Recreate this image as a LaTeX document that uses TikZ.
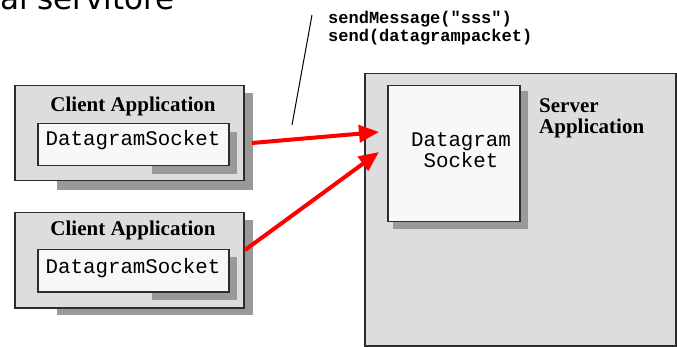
\documentclass[tikz,border=0pt]{standalone}
\usepackage{fontspec}
\setmainfont{Liberation Serif}
\newfontfamily\monof{Liberation Mono}
\newfontfamily\titlef{DejaVu Sans}
\usetikzlibrary{arrows.meta}
\definecolor{boxgray}{RGB}{221,221,221}
\definecolor{shadowgray}{RGB}{153,153,153}
\definecolor{innerwhite}{RGB}{248,248,248}
\definecolor{edgec}{RGB}{45,45,45}
\definecolor{darkshadow}{RGB}{90,90,90}
\begin{document}
\begin{tikzpicture}[x=1pt,y=-1pt,
  outerbox/.style={draw=edgec,line width=1.5pt,fill=boxgray,anchor=north west,inner sep=0pt},
  innerbox/.style={draw=edgec,line width=1.5pt,fill=innerwhite,anchor=north west,inner sep=0pt},
  shadowbox/.style={fill=shadowgray,draw=none},
  msgarrow/.style={draw=red,line width=4pt,-{Triangle[length=20pt,width=17pt,fill=red]}},
  apptitle/.style={font=\bfseries\fontsize{21}{21}\selectfont,inner sep=0pt},
  socktext/.style={font=\monof\fontsize{20.8}{21}\selectfont,inner sep=0pt,anchor=base},
  codetext/.style={font=\monof\bfseries\fontsize{17}{18}\selectfont,inner sep=0pt,anchor=base west},
  noteline/.style={draw=black,line width=1pt}
]
\useasboundingbox (0,0) rectangle (677,347);

% title (cut off at top and left)
\node[anchor=base east,font=\titlef\fontsize{31}{31}\selectfont,inner sep=0pt] (title) at (175,10) {al servitore};

% code note
\node[codetext] (msg1) at (328,24) {sendMessage("sss")};
\node[codetext] (msg2) at (328,42) {send(datagrampacket)};
\coordinate (noteTop) at (312,15);
\coordinate (noteBot) at (292,125);
\draw[noteline] (noteTop) -- (noteBot);

% client 1
\path[shadowbox] (57,93) rectangle (253,190);
\node[outerbox,minimum width=229pt,minimum height=95pt] (client1) at (14,85) {};
\node[apptitle,anchor=base] (c1title) at (133,112) {Client Application};
\path[shadowbox] (152,132) rectangle (237,174);
\node[innerbox,minimum width=191pt,minimum height=42pt] (sock1) at (37,123) {};
\node[socktext] (s1text) at (133,146) {DatagramSocket};

% client 2
\path[shadowbox] (57,220) rectangle (253,315);
\node[outerbox,minimum width=229pt,minimum height=95pt] (client2) at (14,212) {};
\node[apptitle,anchor=base] (c2title) at (133,236) {Client Application};
\path[shadowbox] (152,257) rectangle (237,300);
\node[innerbox,minimum width=191pt,minimum height=42pt] (sock2) at (37,249) {};
\node[socktext] (s2text) at (133,273) {DatagramSocket};

% server
\path[fill=darkshadow] (366,75) rectangle (677,347);
\node[outerbox,minimum width=311pt,minimum height=272pt] (server) at (364,73) {};
\path[shadowbox] (393,91) rectangle (528,229);
\node[innerbox,minimum width=132pt,minimum height=136pt] (ssock) at (387,85) {};
\node[socktext] (ss1) at (461,147) {Datagram};
\node[socktext] (ss2) at (461,168) {Socket};
\node[apptitle,anchor=base west] (stitle1) at (539,113) {Server};
\node[apptitle,anchor=base west] (stitle2) at (539,134) {Application};

% arrows
\coordinate (a1s) at (252,143);
\coordinate (a1e) at (379,132);
\coordinate (a2s) at (245,250);
\coordinate (a2e) at (379,152);
\draw[msgarrow] (a1s) -- (a1e);
\draw[msgarrow] (a2s) -- (a2e);
\end{tikzpicture}
\end{document}
